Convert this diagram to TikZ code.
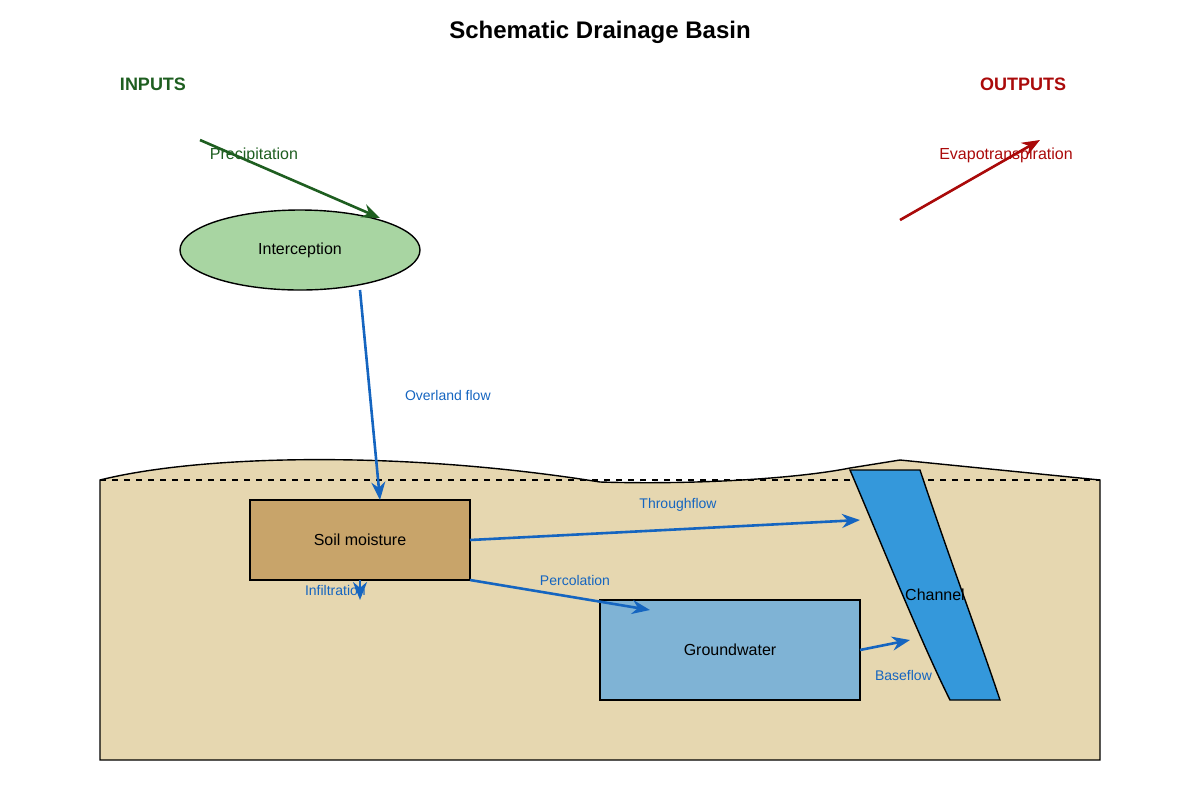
\documentclass[tikz,border=0pt]{standalone}
\usepackage{fontspec}
\setmainfont{Liberation Sans}
\usetikzlibrary{arrows.meta,shapes.geometric}
\definecolor{ground}{HTML}{E6D7B0}
\definecolor{soil}{HTML}{C8A46A}
\definecolor{gw}{HTML}{7FB3D5}
\definecolor{chan}{HTML}{3498DB}
\definecolor{leaf}{HTML}{A8D5A2}
\definecolor{ingreen}{HTML}{1E5E20}
\definecolor{outred}{HTML}{AA0A0A}
\definecolor{flow}{HTML}{1565C0}
\tikzset{
 arr/.style={line width=1.3pt,-{Stealth[length=9pt,width=7pt]}},
 flowarr/.style={arr,draw=flow},
 flowlbl/.style={text=flow,font=\fontsize{7}{8}\selectfont},
 box/.style={draw=black,line width=0.7pt,font=\fontsize{8}{10}\selectfont},
}
\begin{document}
\begin{tikzpicture}[x=0.5pt,y=-0.5pt]
\useasboundingbox (0,0) rectangle (1200,800);
\node[font=\bfseries\fontsize{12}{14}\selectfont] (title) at (600,32) {Schematic Drainage Basin};
\node[font=\bfseries\fontsize{9}{11}\selectfont,text=ingreen] (inp) at (153,84) {INPUTS};
\node[font=\bfseries\fontsize{9}{11}\selectfont,text=outred] (outp) at (1023,84) {OUTPUTS};
% ground
\draw[fill=ground,line width=0.7pt] (100,760) -- (100,480) .. controls (200,455) and (400,450) .. (600,482) .. controls (700,485) and (800,478) .. (850,468) -- (900,460) -- (1100,480) -- (1100,760) -- cycle;
\draw[dashed,line width=0.7pt] (100,480) -- (1100,480);
% channel
\draw[fill=chan,line width=0.7pt] (850,470) -- (920,470) .. controls (950,560) and (980,640) .. (1000,700) -- (950,700) .. controls (920,640) and (880,540) .. cycle;
\node[font=\fontsize{8}{10}\selectfont] (chl) at (935,595) {Channel};
% nodes
\node[box,fill=leaf,ellipse,minimum width=120pt,minimum height=40pt,inner sep=0pt] (inter) at (300,250) {Interception};
\node[box,fill=soil,minimum width=110pt,minimum height=40pt,inner sep=0pt] (soilm) at (360,540) {Soil moisture};
\node[box,fill=gw,minimum width=130pt,minimum height=50pt,inner sep=0pt] (gwn) at (730,650) {Groundwater};
% coordinates
\coordinate (p0) at (200,140); \coordinate (p1) at (380,218);
\coordinate (e0) at (900,220); \coordinate (e1) at (1040,140);
\coordinate (o0) at (360,290); \coordinate (o1) at (380,500);
\coordinate (t0) at (470,540); \coordinate (t1) at (860,520);
\coordinate (c0) at (470,580); \coordinate (c1) at (650,610);
\coordinate (i0) at (360,580); \coordinate (i1) at (360,600);
\coordinate (b0) at (860,650); \coordinate (b1) at (910,640);
\draw[arr,draw=ingreen] (p0) -- (p1);
\draw[arr,draw=outred] (e0) -- (e1);
\draw[flowarr] (o0) -- (o1);
\draw[flowarr] (t0) -- (t1);
\draw[flowarr] (c0) -- (c1);
\draw[flowarr] (i0) -- (i1);
\draw[flowarr] (b0) -- (b1);
\node[text=ingreen,font=\fontsize{8}{10}\selectfont] (pl) at (254,155) {Precipitation};
\node[text=outred,font=\fontsize{8}{10}\selectfont] (el) at (1006,155) {Evapotranspiration};
\node[flowlbl,anchor=west] (ol) at (398,395) {Overland flow};
\node[flowlbl] (tl) at (678,505) {Throughflow};
\node[flowlbl] (cl) at (575,580) {Percolation};
\node[flowlbl,anchor=west] (il) at (298,590) {Infiltration};
\node[flowlbl,anchor=west] (bl) at (868,675) {Baseflow};
\end{tikzpicture}
\end{document}
